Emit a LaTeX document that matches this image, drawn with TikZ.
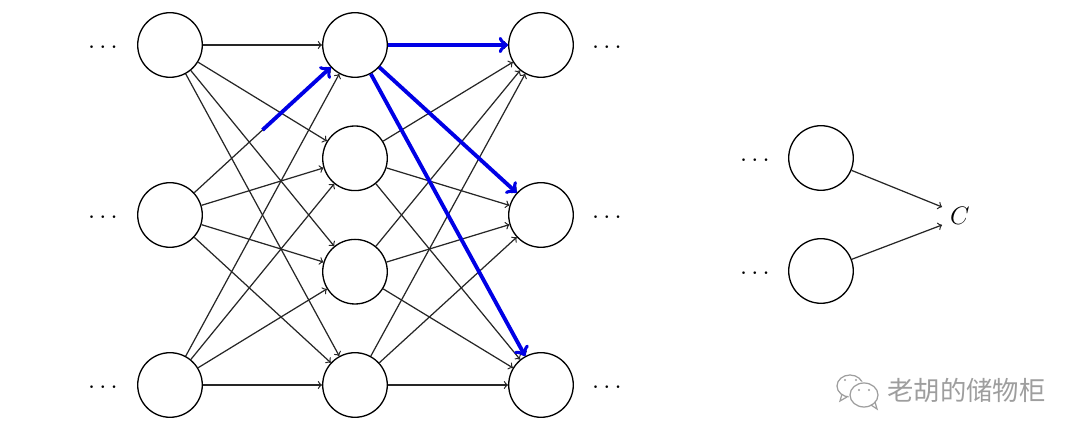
\documentclass[tikz,border=0pt]{standalone}
\usepackage{fontspec}
\newfontfamily\cjk{Noto Sans CJK SC}
\usetikzlibrary{calc}
\begin{document}
\begin{tikzpicture}[x=0.02cm,y=-0.02cm,
  neuron/.style={circle,draw,line width=0.75pt,minimum size=1.292cm,inner sep=0pt},
  conn/.style={->,line width=0.7pt,black!85},
  hl/.style={->,line width=2.2pt,blue!90!black},
  dotsnode/.style={font=\fontsize{14}{16}\selectfont,inner sep=0pt},
  wm/.style={black!38}]
\useasboundingbox (0,0) rectangle (1080,438);
% layer 1
\node[neuron] (a1) at (170,45) {};
\node[neuron] (a2) at (170,215) {};
\node[neuron] (a3) at (170,385) {};
% layer 2
\node[neuron] (b1) at (355,45) {};
\node[neuron] (b2) at (355,158.3) {};
\node[neuron] (b3) at (355,271.7) {};
\node[neuron] (b4) at (355,385) {};
% layer 3
\node[neuron] (c1) at (541,45) {};
\node[neuron] (c2) at (541,215) {};
\node[neuron] (c3) at (541,385) {};
% right part
\node[neuron] (r1) at (821,158) {};
\node[neuron] (r2) at (821,271) {};
\node[font=\fontsize{14}{16}\selectfont] (C) at (960,216) {$C$};
% dots
\node[dotsnode] (la1) at (103,48) {$\cdots$};
\node[dotsnode] (la2) at (103,218) {$\cdots$};
\node[dotsnode] (la3) at (103,388) {$\cdots$};
\node[dotsnode] (ra1) at (607,48) {$\cdots$};
\node[dotsnode] (ra2) at (607,218) {$\cdots$};
\node[dotsnode] (ra3) at (607,388) {$\cdots$};
\node[dotsnode] (rl1) at (755,161) {$\cdots$};
\node[dotsnode] (rl2) at (755,274) {$\cdots$};
% connections layer 1 -> 2
\foreach \i in {1,2,3}
  \foreach \j in {1,2,3,4}
    \draw[conn] (a\i) -- (b\j);
% connections layer 2 -> 3
\foreach \i in {1,2,3,4}
  \foreach \j in {1,2,3}
    \draw[conn] (b\i) -- (c\j);
% right part
\coordinate (ct) at ($(C.west)+(-2,-9)$);
\coordinate (cb) at ($(C.west)+(-2,9)$);
\draw[conn] (r1) -- (ct);
\draw[conn] (r2) -- (cb);
% highlighted path
\coordinate (m) at ($(a2)!0.5!(b1)$);
\draw[hl] (m) -- (b1);
\draw[hl] (b1) -- (c1);
\draw[hl] (b1) -- (c2);
\draw[hl] (b1) -- (c3);
% watermark
\begin{scope}[wm, line width=0.7pt]
  \draw (850,386) ellipse (13 and 11);
  \fill[white] (864,395) ellipse (15.5 and 13.5);
  \draw (864,395) ellipse (14 and 12);
  \draw (842,394) -- (840,401) -- (847,397);
  \draw (871,405) -- (877,409) -- (875,402);
  \fill (845,380) circle (1.2);
  \fill (856,380) circle (1.2);
  \fill (859,390) circle (1.1);
  \fill (869,390) circle (1.1);
\end{scope}
\node[wm,anchor=west,inner sep=0pt,font=\cjk\fontsize{15}{17}\selectfont] (wmt) at (887,390) {老胡的储物柜};
\end{tikzpicture}
\end{document}
